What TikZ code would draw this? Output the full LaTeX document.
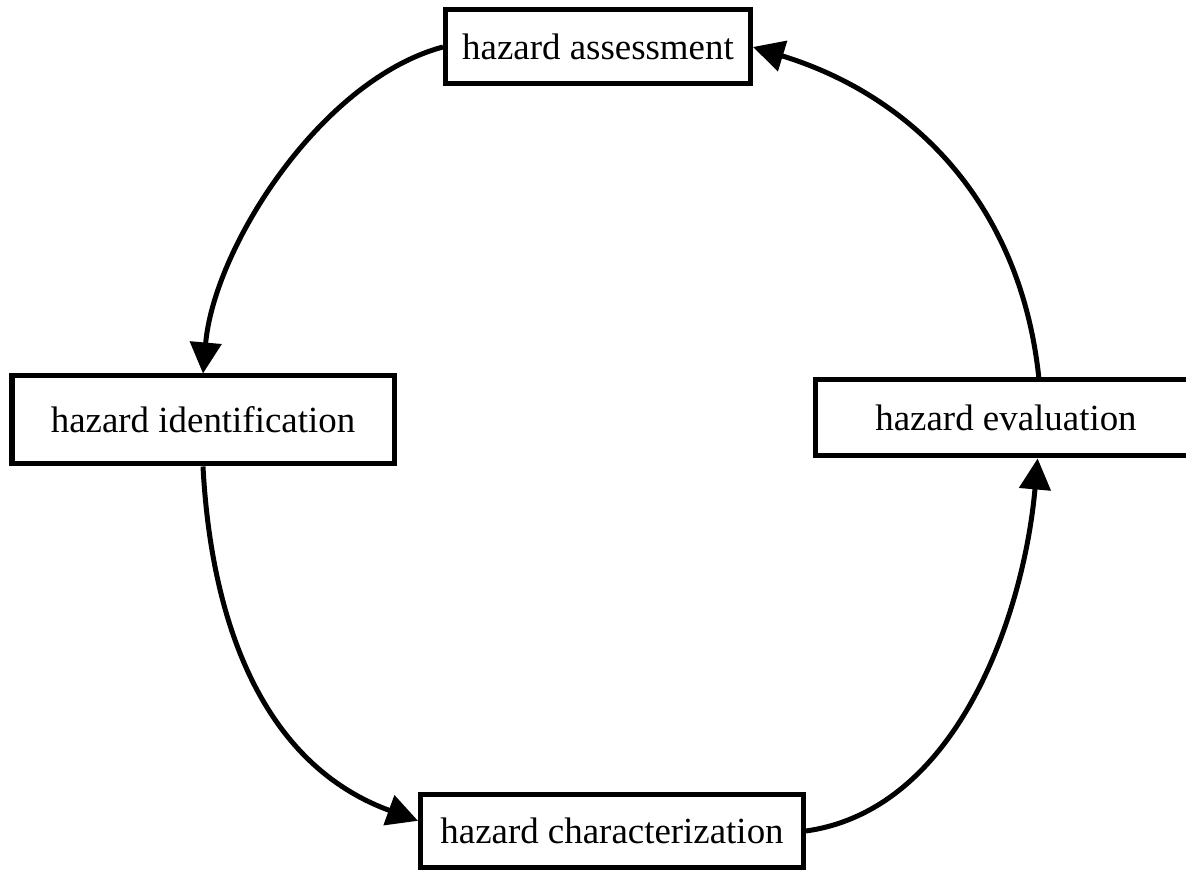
\documentclass[tikz,border=0pt]{standalone}
\usepackage{fontspec}
\setmainfont{Liberation Serif}
\usetikzlibrary{arrows.meta}

\begin{document}
\begin{tikzpicture}[
        box/.style={rectangle, draw, line width=0.1cm, fill=white, inner sep=0pt, font=\fontsize{21}{25}\selectfont},
        flow/.style={line width=0.1cm, -{Triangle[length=0.62cm, width=0.62cm]}}]
        \useasboundingbox (0,0) rectangle (23.72,17.42);
        \clip (0,0) rectangle (23.72,17.42);

        \node[box, minimum width=6.1cm, minimum height=1.48cm] (assess) at (11.96, 16.48) {hazard assessment};
        \node[box, minimum width=7.64cm, minimum height=1.76cm] (ident) at (4.06, 9.02) {hazard identification};
        \node[box, minimum width=7.62cm, minimum height=1.52cm] (eval) at (20.12, 9.06) {hazard evaluation};
        \node[box, minimum width=7.66cm, minimum height=1.46cm] (charact) at (12.24, 0.80) {hazard characterization};

        \draw[flow] (assess.west) to[out=195, in=85, looseness=0.8] (ident.north);
        \draw[flow] (ident.south) to[out=-87, in=160] (charact.177);
        \draw[flow] (charact.east) to[out=8, in=-95, looseness=0.9] (eval.-52);
        \draw[flow] (eval.51) to[out=96, in=-17] (assess.east);
    \end{tikzpicture}
\end{document}
